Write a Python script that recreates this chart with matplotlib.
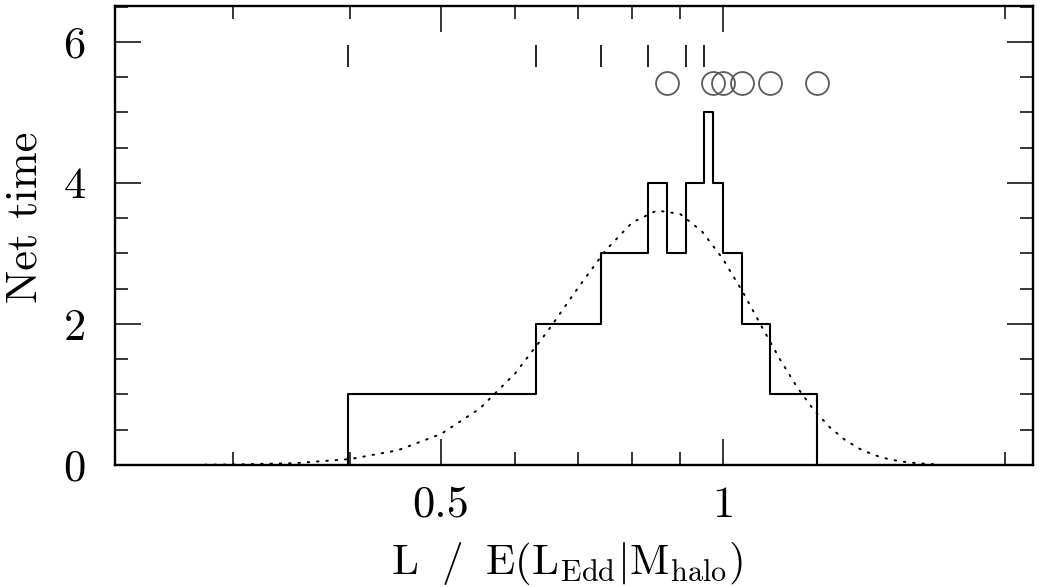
import numpy as np
import matplotlib
matplotlib.use("Agg")
import matplotlib.pyplot as plt
from matplotlib.ticker import FixedLocator, FixedFormatter

plt.rcParams['font.family'] = 'serif'
plt.rcParams['font.serif'] = ['cmr10', 'DejaVu Serif']
plt.rcParams['mathtext.fontset'] = 'cm'
plt.rcParams['axes.unicode_minus'] = False

# episode starts (tick marks) and ends (open circles), in L / E(L_Edd|M_halo)
starts = [0.398, 0.631, 0.741, 0.832, 0.913, 0.954]
ends = [0.871, 0.976, 1.000, 1.048, 1.122, 1.260]

# dotted model curve
curve_x = [0.28, 0.30, 0.35, 0.40, 0.45, 0.50, 0.55, 0.60, 0.65, 0.70, 0.75,
           0.80, 0.85, 0.90, 0.95, 1.00, 1.05, 1.10, 1.15, 1.20, 1.25, 1.30,
           1.35, 1.40, 1.45, 1.50, 1.55, 1.60, 1.65, 1.68]
curve_y = [0.004, 0.007, 0.027, 0.084, 0.21, 0.44, 0.80, 1.30, 1.90, 2.51, 3.05,
           3.44, 3.61, 3.56, 3.31, 2.92, 2.45, 1.96, 1.50, 1.10, 0.78, 0.535,
           0.354, 0.227, 0.141, 0.085, 0.050, 0.029, 0.016, 0.011]

x_major = [0.5, 1.0]
x_major_labels = ['0.5', '1']
x_minor = [0.3, 0.4, 0.6, 0.7, 0.8, 0.9, 2.0]

# net count = started minus ended
ev_x = np.array(starts + ends)
ev_d = np.array([1] * len(starts) + [-1] * len(ends))
order = np.argsort(ev_x)
ev_x = ev_x[order]
net = np.cumsum(ev_d[order])

fig = plt.figure(figsize=(10.4, 5.87), dpi=100)
ax = fig.add_axes([115 / 1040, 1 - 465 / 587, 918 / 1040, 459 / 587])

ax.step(np.r_[ev_x[0], ev_x], np.r_[0, net], where='post', color='black', lw=1.5)
ax.plot(curve_x, curve_y, color='black', lw=1.4, linestyle=(0, (0.8, 4)),
        dash_capstyle='round')
ax.vlines(starts, 5.65, 5.96, color='black', lw=1.2)
ax.plot(ends, [5.42] * len(ends), 'o', ms=16.5, mfc='none', mec='#5a5a5a', mew=1.3)

ax.set_xscale('log')
ax.set_xlim(0.2244, 2.142)
ax.set_ylim(0, 6.51)

ax.xaxis.set_major_locator(FixedLocator(x_major))
ax.xaxis.set_major_formatter(FixedFormatter(x_major_labels))
ax.xaxis.set_minor_locator(FixedLocator(x_minor))
ax.xaxis.set_minor_formatter(FixedFormatter([''] * len(x_minor)))
ax.yaxis.set_major_locator(FixedLocator([0, 2, 4, 6]))
ax.yaxis.set_minor_locator(FixedLocator(np.arange(0, 6.6, 0.5)))

ax.tick_params(which='both', direction='in', top=True, right=True, width=1.1)
ax.tick_params(which='major', length=19)
ax.tick_params(which='minor', length=9.5)
ax.tick_params(axis='x', which='major', pad=15, labelsize=32)
ax.tick_params(axis='y', which='major', pad=21, labelsize=32)
for s in ax.spines.values():
    s.set_linewidth(1.7)

ax.set_ylabel('Net time', fontsize=32)
ax.yaxis.set_label_coords(-0.076, 0.54)
ax.set_xlabel(r'$\mathrm{L\ \;/\ \;E(L_{Edd}|M_{halo})}$', fontsize=31)
ax.xaxis.set_label_coords(0.492, -0.163)

fig.savefig('out.png', dpi=100)
